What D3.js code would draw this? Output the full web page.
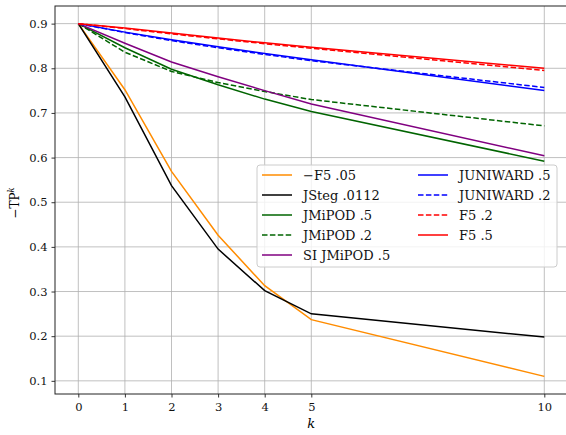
<!DOCTYPE html>
<html>
<head>
<meta charset="utf-8">
<script src="https://cdn.jsdelivr.net/npm/d3@7"></script>
<style>
  body { margin: 0; background: #fff; }
</style>
</head>
<body>
<svg id="chart" width="566" height="435"></svg>
<script>
// k values and tick labels
var ks = [0, 1, 2, 3, 4, 5, 10];
var xTicks = [0, 1, 2, 3, 4, 5, 10];
var yTicks = [0.1, 0.2, 0.3, 0.4, 0.5, 0.6, 0.7, 0.8, 0.9];

// series
var f5_05      = [0.9, 0.752, 0.569, 0.426, 0.313, 0.237, 0.110];
var jsteg_0112 = [0.9, 0.736, 0.537, 0.395, 0.302, 0.250, 0.198];
var jmipod_5   = [0.9, 0.846, 0.798, 0.763, 0.731, 0.703, 0.592];
var jmipod_2   = [0.9, 0.836, 0.793, 0.768, 0.748, 0.730, 0.671];
var si_jmipod_5 = [0.9, 0.856, 0.814, 0.781, 0.750, 0.720, 0.604];
var juniward_5 = [0.9, 0.881, 0.864, 0.848, 0.833, 0.819, 0.750];
var juniward_2 = [0.9, 0.880, 0.862, 0.846, 0.831, 0.817, 0.757];
var f5_2       = [0.9, 0.889, 0.877, 0.866, 0.855, 0.845, 0.795];
var f5_5       = [0.9, 0.890, 0.879, 0.868, 0.857, 0.847, 0.800];

var seriesNames = ["\u2212F5 .05", "JSteg .0112", "JMiPOD .5", "JMiPOD .2", "SI JMiPOD .5",
                   "JUNIWARD .5", "JUNIWARD .2", "F5 .2", "F5 .5"];
var seriesValues = [f5_05, jsteg_0112, jmipod_5, jmipod_2, si_jmipod_5,
                    juniward_5, juniward_2, f5_2, f5_5];
var seriesColors = ["#ff8c00", "#000000", "#006400", "#006400", "#800080",
                    "#0000ff", "#0000ff", "#ff0000", "#ff0000"];
var seriesDashed = [false, false, false, true, false, false, true, true, false];

var SERIF = "DejaVu Serif";

(function() {
  var svg = d3.select("#chart");
  var left = 55, top = 6, plotW = 512.6, plotH = 388;

  var x = d3.scaleLinear().domain([-0.5, 10.5]).range([left, left + plotW]);
  var y = d3.scaleLinear().domain([0.0705, 0.9395]).range([top + plotH, top]);

  // grid
  var grid = svg.append("g").attr("stroke", "#b0b0b0").attr("stroke-width", 0.8);
  grid.selectAll("line.gx").data(xTicks).enter().append("line")
    .attr("x1", function(d) { return x(d); }).attr("x2", function(d) { return x(d); })
    .attr("y1", top).attr("y2", top + plotH);
  grid.selectAll("line.gy").data(yTicks).enter().append("line")
    .attr("y1", function(d) { return y(d); }).attr("y2", function(d) { return y(d); })
    .attr("x1", left).attr("x2", left + plotW);

  // lines
  var line = d3.line()
    .x(function(d, i) { return x(ks[i]); })
    .y(function(d) { return y(d); });
  seriesValues.forEach(function(vals, i) {
    svg.append("path")
      .datum(vals)
      .attr("d", line)
      .attr("fill", "none")
      .attr("stroke", seriesColors[i])
      .attr("stroke-width", 1.5)
      .attr("stroke-dasharray", seriesDashed[i] ? "5.5,2.4" : null);
  });

  // axes
  var xAxis = svg.append("g")
    .attr("transform", "translate(0," + (top + plotH) + ")")
    .call(d3.axisBottom(x).tickValues(xTicks).tickSize(3.5).tickPadding(5).tickFormat(d3.format("d")));
  var yAxis = svg.append("g")
    .attr("transform", "translate(" + left + ",0)")
    .call(d3.axisLeft(y).tickValues(yTicks).tickSize(3.5).tickPadding(4).tickFormat(d3.format(".1f")));
  [xAxis, yAxis].forEach(function(a) {
    a.attr("font-family", SERIF);
    a.select(".domain").remove();
    a.selectAll("line").attr("stroke", "#000").attr("stroke-width", 0.8);
    a.selectAll("text").attr("font-size", 11.5).attr("fill", "#111");
  });

  // frame
  svg.append("rect")
    .attr("x", left).attr("y", top).attr("width", plotW).attr("height", plotH)
    .attr("fill", "none").attr("stroke", "#222").attr("stroke-width", 1);

  // axis labels
  svg.append("text")
    .attr("x", x(5)).attr("y", 428)
    .attr("text-anchor", "middle")
    .attr("font-family", SERIF)
    .attr("font-size", 13).attr("font-style", "italic")
    .text("k");
  var yl = svg.append("text")
    .attr("transform", "translate(19,203) rotate(-90)")
    .attr("text-anchor", "middle")
    .attr("font-family", SERIF)
    .attr("font-size", 12);
  yl.append("tspan").text("\u2212TP");
  yl.append("tspan").attr("font-size", 8.5).attr("font-style", "italic")
    .attr("dy", -5).text("k");

  // legend
  var lg = svg.append("g").attr("font-family", SERIF);
  lg.append("rect")
    .attr("x", 257).attr("y", 165).attr("width", 300).attr("height", 102)
    .attr("rx", 3).attr("fill", "#fff").attr("fill-opacity", 0.8)
    .attr("stroke", "#cccccc").attr("stroke-width", 1);
  seriesNames.forEach(function(name, i) {
    var col = i < 5 ? 0 : 1;
    var row = i < 5 ? i : i - 5;
    var lx = col === 0 ? 262 : 418;
    var ly = 175 + row * 20;
    lg.append("line")
      .attr("x1", lx).attr("x2", lx + 30).attr("y1", ly).attr("y2", ly)
      .attr("stroke", seriesColors[i]).attr("stroke-width", 1.5)
      .attr("stroke-dasharray", seriesDashed[i] ? "5.5,2.4" : null);
    lg.append("text")
      .attr("x", lx + 41).attr("y", ly + 5)
      .attr("font-size", 13)
      .attr("fill", "#111")
      .text(name);
  });
})();
</script>
</body>
</html>
